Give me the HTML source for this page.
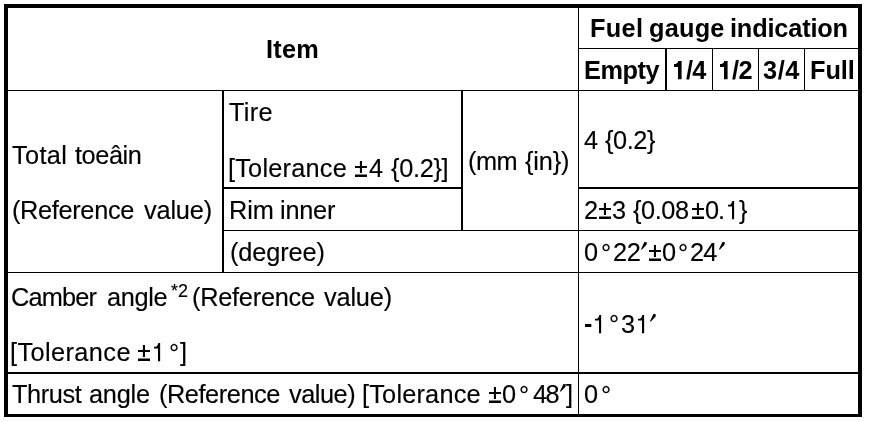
<!DOCTYPE html>
<html><head><meta charset="utf-8">
<style>
html,body{margin:0;padding:0;background:#fff;}
body{width:880px;height:422px;position:relative;overflow:hidden;font-family:"Liberation Sans",sans-serif;color:#000;}
.l{position:absolute;background:#000;}
.t{position:absolute;white-space:nowrap;will-change:transform;-webkit-text-stroke:0.15px #000;font-size:25.33px;line-height:30px;height:30px;}
.b{font-weight:bold;-webkit-text-stroke:0;}
.g{position:absolute;display:block;overflow:visible;fill:#000;}
</style></head><body>
<!-- outer border -->
<div class="l" style="left:4px;top:4px;width:858px;height:4px"></div>
<div class="l" style="left:4px;top:4px;width:4px;height:413px"></div>
<div class="l" style="left:858px;top:4px;width:4px;height:413px"></div>
<div class="l" style="left:4px;top:414px;width:858px;height:3px"></div>
<!-- verticals -->
<div class="l" style="left:578px;top:8px;width:1px;height:406px"></div>
<div class="l" style="left:665px;top:49px;width:2px;height:42px"></div>
<div class="l" style="left:712px;top:49px;width:1px;height:42px"></div>
<div class="l" style="left:758px;top:49px;width:1px;height:42px"></div>
<div class="l" style="left:804px;top:49px;width:1px;height:42px"></div>
<div class="l" style="left:222px;top:90px;width:2px;height:183px"></div>
<div class="l" style="left:461px;top:90px;width:2px;height:141px"></div>
<!-- horizontals -->
<div class="l" style="left:578px;top:48px;width:280px;height:1px"></div>
<div class="l" style="left:8px;top:90px;width:850px;height:1px"></div>
<div class="l" style="left:222px;top:187px;width:240px;height:2px"></div>
<div class="l" style="left:578px;top:187px;width:280px;height:2px"></div>
<div class="l" style="left:222px;top:230px;width:636px;height:1px"></div>
<div class="l" style="left:8px;top:272px;width:850px;height:1px"></div>
<div class="l" style="left:8px;top:372px;width:850px;height:2px"></div>
<!-- text -->
<div class="t b" id="s0" style="left:266.20px;top:34.00px;letter-spacing:0.203px;">Item</div>
<div class="t b" id="s1" style="left:589.50px;top:13.00px;letter-spacing:0.333px;">Fuel</div>
<div class="t b" id="s2" style="left:648.50px;top:13.00px;letter-spacing:0.212px;">gauge</div>
<div class="t b" id="s3" style="left:729.70px;top:13.00px;letter-spacing:-0.171px;">indication</div>
<div class="t b" id="s4" style="left:584.00px;top:55.00px;letter-spacing:-0.463px;">Empty</div>
<svg class="g" id="s5" style="left:673.60px;top:60.80px" width="7.6" height="18.2" viewBox="0 0 7.6 18.2"><path d="M4.2 0H7.6V18.2H4.0V6.1H0V3.1H1.6C3.0 2.6 3.9 1.5 4.2 0Z"/></svg>
<div class="t b" id="s6" style="left:686.20px;top:55.00px;letter-spacing:-0.690px;">/4</div>
<svg class="g" id="s7" style="left:719.90px;top:60.80px" width="7.6" height="18.2" viewBox="0 0 7.6 18.2"><path d="M4.2 0H7.6V18.2H4.0V6.1H0V3.1H1.6C3.0 2.6 3.9 1.5 4.2 0Z"/></svg>
<div class="t b" id="s8" style="left:731.80px;top:55.00px;letter-spacing:-0.460px;">/2</div>
<div class="t b" id="s9" style="left:763.10px;top:55.00px;letter-spacing:0.615px;">3/4</div>
<div class="t b" id="s10" style="left:809.80px;top:55.00px;letter-spacing:-0.053px;">Full</div>
<div class="t" id="s11" style="left:11.70px;top:140.00px;letter-spacing:0.327px;">Total</div>
<div class="t" id="s12" style="left:74.50px;top:140.00px;letter-spacing:-0.430px;">toeâin</div>
<div class="t" id="s13" style="left:11.50px;top:195.00px;letter-spacing:-0.333px;">(Reference</div>
<div class="t" id="s14" style="left:143.50px;top:195.00px;letter-spacing:-0.185px;">value)</div>
<div class="t" id="s15" style="left:229.10px;top:97.00px;letter-spacing:0.310px;">Tire</div>
<div class="t" id="s16" style="left:228.00px;top:153.00px;letter-spacing:0.206px;">[Tolerance</div>
<svg class="g" id="s17" style="left:355.10px;top:161.00px" width="12" height="16" viewBox="0 0 12 16"><path d="M4.9 0H7V4.9H12V7H7V12H4.9V7H0V4.9H4.9ZM0 13.4H12V16H0Z"/></svg>
<div class="t" id="s18" style="left:368.90px;top:153.00px;">4</div>
<div class="t" id="s19" style="left:390.90px;top:153.00px;letter-spacing:-0.306px;">{0.2}]</div>
<div class="t" id="s20" style="left:468.00px;top:146.00px;letter-spacing:-0.500px;">(mm</div>
<div class="t" id="s21" style="left:524.80px;top:146.00px;letter-spacing:-0.153px;">{in})</div>
<div class="t" id="s22" style="left:228.60px;top:195.00px;letter-spacing:-0.035px;">Rim</div>
<div class="t" id="s23" style="left:279.50px;top:195.00px;letter-spacing:-0.250px;">inner</div>
<div class="t" id="s24" style="left:229.60px;top:237.00px;letter-spacing:-0.110px;">(degree)</div>
<div class="t" id="s25" style="left:584.20px;top:125.00px;">4</div>
<div class="t" id="s26" style="left:604.60px;top:125.00px;letter-spacing:-0.442px;">{0.2}</div>
<div class="t" id="s27" style="left:583.50px;top:195.00px;">2</div>
<svg class="g" id="s28" style="left:598.90px;top:203.00px" width="12" height="16" viewBox="0 0 12 16"><path d="M4.9 0H7V4.9H12V7H7V12H4.9V7H0V4.9H4.9ZM0 13.4H12V16H0Z"/></svg>
<div class="t" id="s29" style="left:611.90px;top:195.00px;">3</div>
<div class="t" id="s30" style="left:633.10px;top:195.00px;letter-spacing:-0.442px;">{0.08</div>
<svg class="g" id="s31" style="left:691.80px;top:203.00px" width="12" height="16" viewBox="0 0 12 16"><path d="M4.9 0H7V4.9H12V7H7V12H4.9V7H0V4.9H4.9ZM0 13.4H12V16H0Z"/></svg>
<div class="t" id="s32" style="left:704.50px;top:195.00px;letter-spacing:-1.000px;">0.</div>
<svg class="g" id="s33" style="left:728.40px;top:200.80px" width="6.2" height="18.2" viewBox="0 0 6.2 18.2"><path d="M4.3 0H6.15V18.2H4.0V5.6H0V3.7H2.2C3.2 3.0 3.9 1.7 4.3 0Z"/></svg>
<div class="t" id="s34" style="left:739.00px;top:195.00px;">}</div>
<div class="t" id="s35" style="left:584.20px;top:237.00px;">0</div>
<div class="t" id="s36" style="left:600.60px;top:238.00px;">°</div>
<div class="t" id="s37" style="left:612.90px;top:237.00px;letter-spacing:-0.230px;">22</div>
<svg class="g" id="s38" style="left:640.70px;top:242.00px" width="5.9" height="7.8" viewBox="0 0 5.9 7.8"><path d="M3.4 0L5.9 0.3L5.5 2.7L0.7 7.8L0 7.2Z"/></svg>
<svg class="g" id="s39" style="left:648.60px;top:245.00px" width="12" height="16" viewBox="0 0 12 16"><path d="M4.9 0H7V4.9H12V7H7V12H4.9V7H0V4.9H4.9ZM0 13.4H12V16H0Z"/></svg>
<div class="t" id="s40" style="left:661.70px;top:237.00px;">0</div>
<div class="t" id="s41" style="left:677.90px;top:238.00px;">°</div>
<div class="t" id="s42" style="left:689.90px;top:237.00px;letter-spacing:-0.930px;">24</div>
<svg class="g" id="s43" style="left:718.60px;top:242.00px" width="5.9" height="7.8" viewBox="0 0 5.9 7.8"><path d="M3.4 0L5.9 0.3L5.5 2.7L0.7 7.8L0 7.2Z"/></svg>
<div class="t" id="s44" style="left:11.00px;top:282.00px;letter-spacing:-0.815px;">Camber</div>
<div class="t" id="s45" style="left:107.30px;top:282.00px;letter-spacing:-0.327px;">angle</div>
<div class="t" id="s46" style="left:170.70px;top:276.00px;font-size:18px;">*</div>
<div class="t" id="s47" style="left:178.00px;top:276.00px;font-size:18px;">2</div>
<div class="t" id="s48" style="left:191.80px;top:282.00px;letter-spacing:-0.248px;">(Reference</div>
<div class="t" id="s49" style="left:324.25px;top:282.00px;letter-spacing:-0.185px;">value)</div>
<div class="t" id="s50" style="left:10.40px;top:337.00px;letter-spacing:0.402px;">[Tolerance</div>
<svg class="g" id="s51" style="left:138.00px;top:345.00px" width="12" height="16" viewBox="0 0 12 16"><path d="M4.9 0H7V4.9H12V7H7V12H4.9V7H0V4.9H4.9ZM0 13.4H12V16H0Z"/></svg>
<svg class="g" id="s52" style="left:153.80px;top:342.80px" width="6.2" height="18.2" viewBox="0 0 6.2 18.2"><path d="M4.3 0H6.15V18.2H4.0V5.6H0V3.7H2.2C3.2 3.0 3.9 1.7 4.3 0Z"/></svg>
<div class="t" id="s53" style="left:168.50px;top:338.00px;">°</div>
<div class="t" id="s54" style="left:180.00px;top:337.00px;">]</div>
<svg class="g" id="s55" style="left:584.80px;top:324.00px" width="6.4" height="3" viewBox="0 0 6.4 3"><path d="M0 0H6.4V3H0Z"/></svg>
<svg class="g" id="s56" style="left:595.10px;top:314.80px" width="6.2" height="18.2" viewBox="0 0 6.2 18.2"><path d="M4.3 0H6.15V18.2H4.0V5.6H0V3.7H2.2C3.2 3.0 3.9 1.7 4.3 0Z"/></svg>
<div class="t" id="s57" style="left:609.00px;top:309.00px;">°</div>
<div class="t" id="s58" style="left:621.20px;top:309.00px;">3</div>
<svg class="g" id="s59" style="left:637.90px;top:314.80px" width="6.2" height="18.2" viewBox="0 0 6.2 18.2"><path d="M4.3 0H6.15V18.2H4.0V5.6H0V3.7H2.2C3.2 3.0 3.9 1.7 4.3 0Z"/></svg>
<svg class="g" id="s60" style="left:649.70px;top:314.00px" width="5.9" height="7.8" viewBox="0 0 5.9 7.8"><path d="M3.4 0L5.9 0.3L5.5 2.7L0.7 7.8L0 7.2Z"/></svg>
<div class="t" id="s61" style="left:12.00px;top:379.00px;letter-spacing:-0.400px;">Thrust</div>
<div class="t" id="s62" style="left:88.50px;top:379.00px;letter-spacing:-0.212px;">angle</div>
<div class="t" id="s63" style="left:158.50px;top:379.00px;letter-spacing:-0.436px;">(Reference</div>
<div class="t" id="s64" style="left:289.20px;top:379.00px;letter-spacing:-0.478px;">value)</div>
<div class="t" id="s65" style="left:361.90px;top:379.00px;letter-spacing:0.197px;">[Tolerance</div>
<svg class="g" id="s66" style="left:488.70px;top:387.00px" width="12" height="16" viewBox="0 0 12 16"><path d="M4.9 0H7V4.9H12V7H7V12H4.9V7H0V4.9H4.9ZM0 13.4H12V16H0Z"/></svg>
<div class="t" id="s67" style="left:502.30px;top:379.00px;">0</div>
<div class="t" id="s68" style="left:519.00px;top:380.00px;">°</div>
<div class="t" id="s69" style="left:532.60px;top:379.00px;letter-spacing:-1.620px;">48</div>
<svg class="g" id="s70" style="left:559.50px;top:384.00px" width="5.9" height="7.8" viewBox="0 0 5.9 7.8"><path d="M3.4 0L5.9 0.3L5.5 2.7L0.7 7.8L0 7.2Z"/></svg>
<div class="t" id="s71" style="left:566.00px;top:379.00px;">]</div>
<div class="t" id="s72" style="left:584.00px;top:379.00px;">0</div>
<div class="t" id="s73" style="left:600.50px;top:380.00px;">°</div>
</body></html>
